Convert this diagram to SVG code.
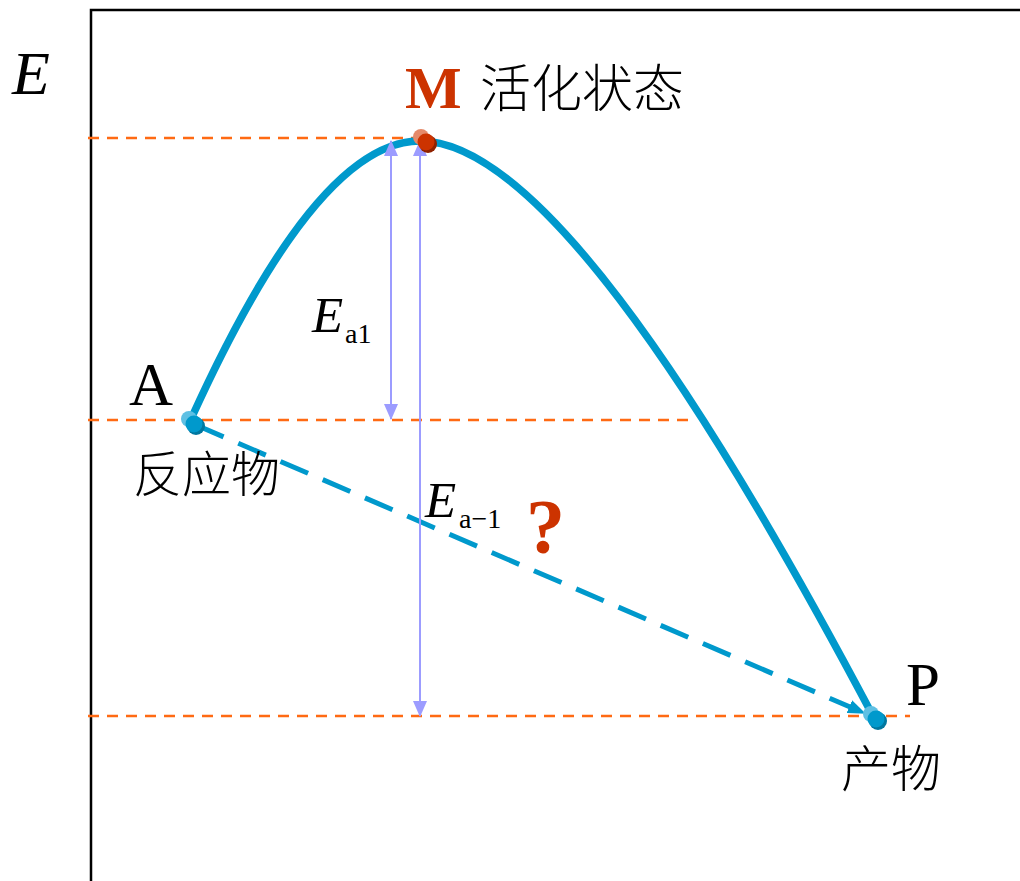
<svg xmlns="http://www.w3.org/2000/svg" width="1020" height="881" viewBox="0 0 1020 881">
<style>
.guide{stroke:#ff6a13;stroke-width:2.5;stroke-dasharray:11 8;fill:none}
.ea{stroke:#9c9cff;stroke-width:2;fill:none}
.curve{stroke:#0099cc;stroke-width:7.5;fill:none;stroke-linecap:round}
.serif{font-family:"Liberation Serif","Times New Roman",serif}
.cjk{font-family:"Noto Sans CJK SC",sans-serif;font-weight:300}
.red{fill:#cc3300}
</style>
<defs>
<marker id="pa" viewBox="0 0 16 14" refX="15" refY="7" markerWidth="16" markerHeight="14" markerUnits="userSpaceOnUse" orient="auto-start-reverse">
<path d="M0,0 L16,7 L0,14 Z" fill="#9c9cff"/>
</marker>
<marker id="ba" viewBox="0 0 18 14" refX="16" refY="7" markerWidth="18" markerHeight="14" markerUnits="userSpaceOnUse" orient="auto">
<path d="M0,0 L18,7 L0,14 Z" fill="#0099cc"/>
</marker>
</defs>
<rect width="1020" height="881" fill="#fff"/>
<g id="frame">
<path d="M91,881 V10 H1020" stroke="#000" stroke-width="2.5" fill="none"/>
</g>
<g id="guides">
<line class="guide" x1="88" y1="138" x2="430" y2="138"/>
<line class="guide" x1="88" y1="420" x2="690" y2="420"/>
<line class="guide" x1="88" y1="716" x2="910" y2="716"/>
</g>
<g id="connectors">
<path id="path-A-M" class="curve" d="M191,419 C245,300 330,141 420,141"/>
<path id="path-M-P" class="curve" d="M420,141 C530,141 690,370 873,716"/>
<line id="dashed-A-P" x1="196" y1="425" x2="864" y2="713" stroke="#0099cc" stroke-width="5" stroke-dasharray="30 16" marker-end="url(#ba)"/>
<line id="Ea1-arrow" class="ea" x1="391" y1="141" x2="391" y2="419" marker-start="url(#pa)" marker-end="url(#pa)"/>
<line id="Ea-1-arrow" class="ea" x1="420" y1="141" x2="420" y2="716" marker-start="url(#pa)" marker-end="url(#pa)"/>
</g>
<g id="node-A">
<circle cx="189" cy="419" r="8" fill="#5fc0e3"/>
<circle cx="196" cy="426" r="9" fill="#00779f"/>
<circle cx="194" cy="424" r="8.5" fill="#0099cc"/>
<text class="serif" x="129" y="405" font-size="61">A</text>
<text class="cjk" x="133" y="492" font-size="49">反应物</text>
</g>
<g id="node-M">
<circle cx="421" cy="137" r="8" fill="#e58a6a"/>
<circle cx="428" cy="144" r="9" fill="#8f2200"/>
<circle cx="426" cy="142" r="8.5" fill="#cc3300"/>
<text class="serif red" x="405" y="108" font-size="60" font-weight="bold">M</text>
<text class="cjk" x="480" y="107" font-size="51">活化状态</text>
</g>
<g id="node-P">
<circle cx="871" cy="714" r="8" fill="#5fc0e3"/>
<circle cx="878" cy="721" r="9" fill="#00779f"/>
<circle cx="876" cy="719" r="8.5" fill="#0099cc"/>
<text class="serif" x="906" y="705" font-size="61">P</text>
<text class="cjk" x="841" y="787" font-size="50">产物</text>
</g>
<g id="labels">
<text class="serif" x="12" y="94" font-size="62" font-style="italic">E</text>
<text class="serif" x="312" y="332" font-size="51" font-style="italic">E</text>
<text class="serif" x="345" y="343" font-size="28">a1</text>
<text class="serif" x="425" y="517" font-size="51" font-style="italic">E</text>
<text class="serif" x="459" y="528" font-size="28">a−1</text>
<text class="serif red" x="526" y="553" font-size="78" font-weight="bold">?</text>
</g>
</svg>
